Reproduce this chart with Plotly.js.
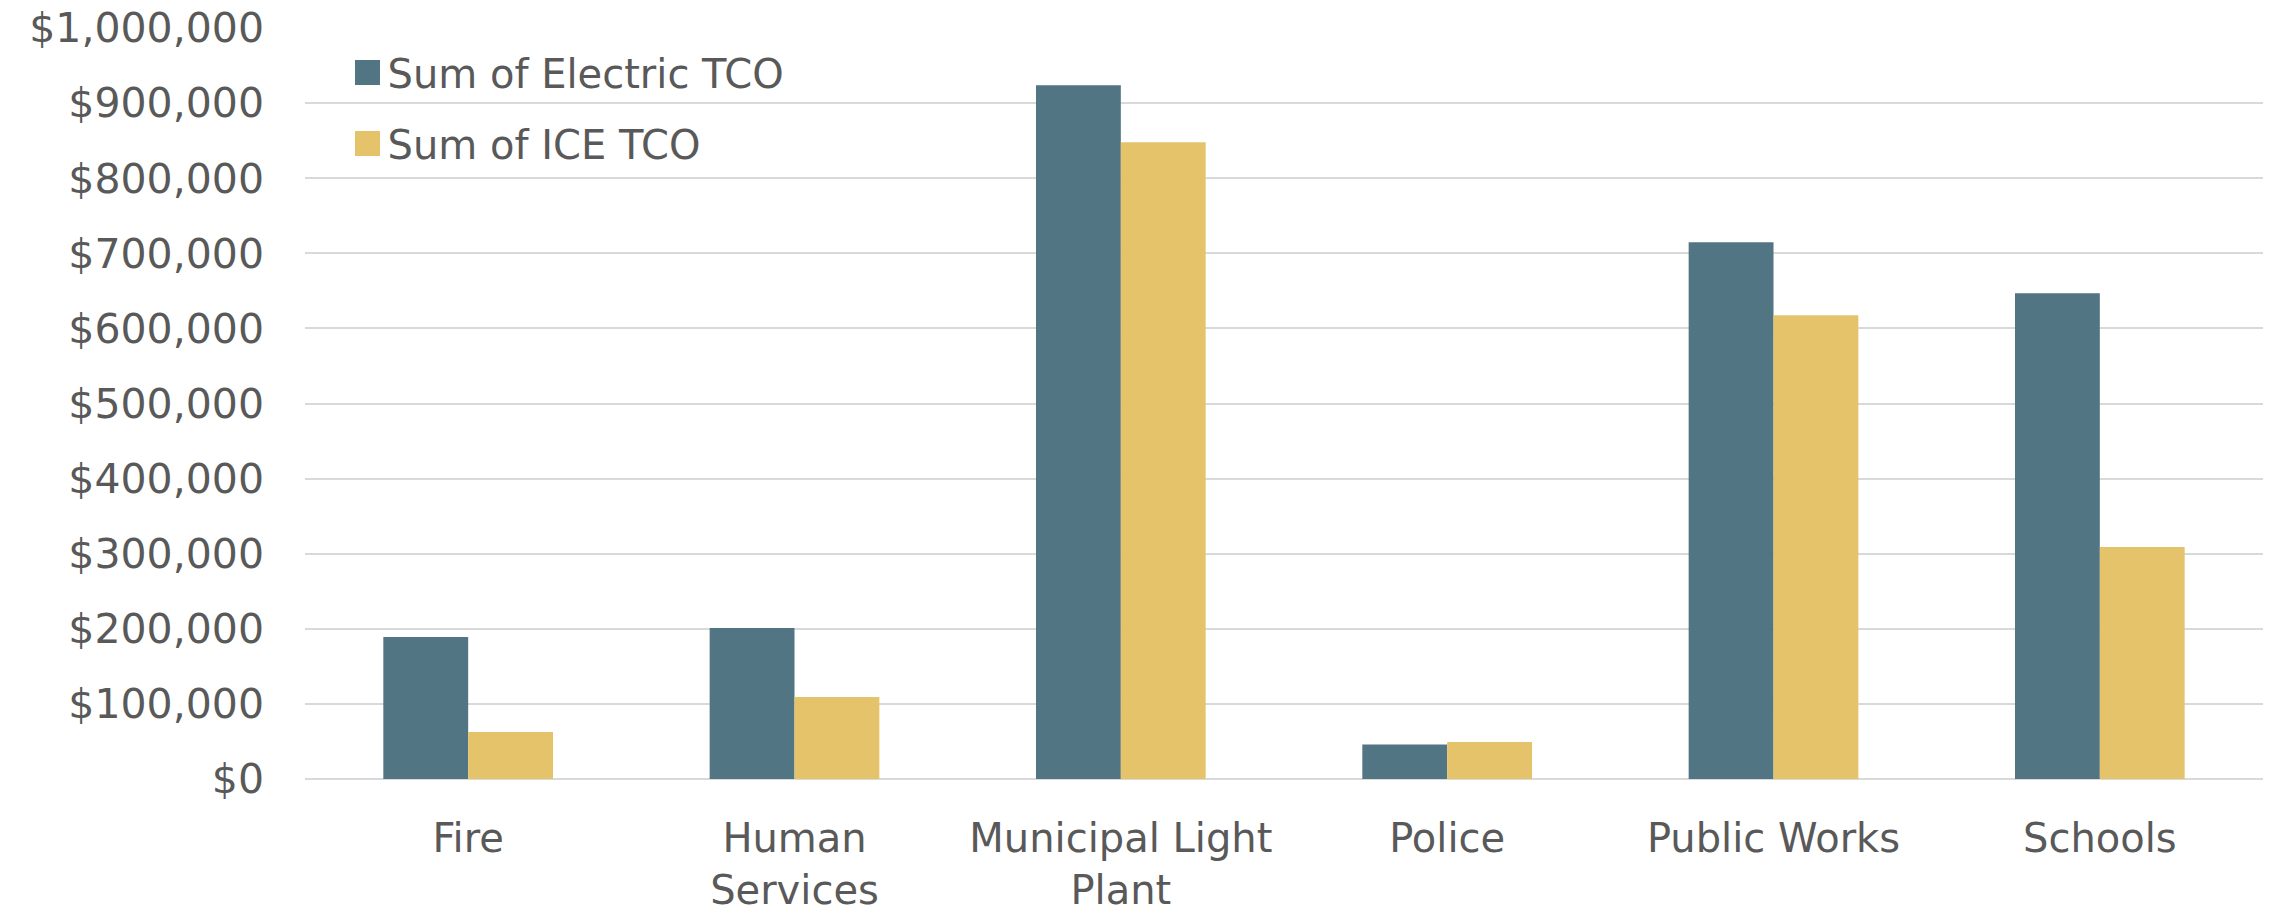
<!DOCTYPE html>
<html>
<head>
<meta charset="utf-8">
<script src="https://cdn.plot.ly/plotly-3.0.1.min.js"></script>
<style>
  html, body { margin: 0; padding: 0; background: #ffffff; }
  #chart { width: 2277px; height: 913px; }
</style>
</head>
<body>
<div id="chart"></div>
<script>
// Departments
const departments = ['Fire', 'Human<br>Services', 'Municipal Light<br>Plant', 'Police', 'Public Works', 'Schools'];

// Total cost of ownership per department (USD)
const electricTCO = [189000, 201000, 923700, 46000, 714800, 646900];
const iceTCO = [62600, 109100, 848000, 49200, 617600, 308800];

const textColor = '#595959';
const fontFamily = 'DejaVu Sans, sans-serif';

const traces = [
  {
    type: 'bar',
    name: 'Sum of Electric TCO',
    x: departments,
    y: electricTCO,
    marker: { color: '#527583' },
    legendgroup: 'electric',
    hoverinfo: 'x+y'
  },
  {
    type: 'bar',
    name: 'Sum of ICE TCO',
    x: departments,
    y: iceTCO,
    marker: { color: '#E4C36B' },
    legendgroup: 'ice',
    hoverinfo: 'x+y'
  }
];

const layout = {
  width: 2277,
  height: 913,
  margin: { l: 305, r: 14, t: 28, b: 134 },
  paper_bgcolor: '#ffffff',
  plot_bgcolor: '#ffffff',
  font: { family: fontFamily, color: textColor, size: 40 },
  barmode: 'group',
  bargap: 0.48,
  bargroupgap: 0,
  showlegend: true,
  legend: {
    x: 0.0217,
    xanchor: 'left',
    y: 0.984,
    yanchor: 'top',
    traceorder: 'grouped',
    tracegroupgap: 16,
    bgcolor: 'rgba(0,0,0,0)',
    borderwidth: 0,
    font: { family: fontFamily, color: textColor, size: 40 }
  },
  xaxis: {
    type: 'category',
    showgrid: false,
    showline: false,
    zeroline: false,
    ticks: '',
    ticklabelstandoff: 32,
    tickfont: { family: fontFamily, color: textColor, size: 40 }
  },
  yaxis: {
    range: [0, 1000000],
    dtick: 100000,
    tick0: 0,
    tickformat: '$,.0f',
    showgrid: true,
    gridcolor: '#D9D9D9',
    gridwidth: 2,
    zeroline: true,
    zerolinecolor: '#D9D9D9',
    zerolinewidth: 2,
    showline: false,
    ticks: '',
    ticklabelstandoff: 40,
    tickfont: { family: fontFamily, color: textColor, size: 41 }
  }
};

Plotly.newPlot('chart', traces, layout, { displayModeBar: false, staticPlot: true }).then(function (gd) {
  // enlarge the legend swatches to 25px squares
  gd.querySelectorAll('.legend .legendpoints path').forEach(function (p) {
    p.setAttribute('d', 'M12.5,12.5H-12.5V-12.5H12.5Z');
  });
});
</script>
</body>
</html>
